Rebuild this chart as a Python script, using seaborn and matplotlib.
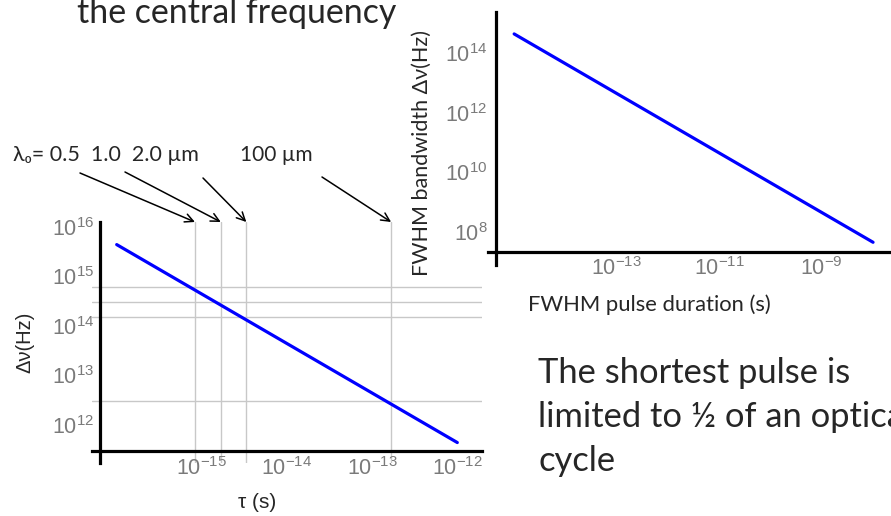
import matplotlib as mpl
import matplotlib.pyplot as plt
import numpy as np
import seaborn as sns
from matplotlib.ticker import FixedLocator, FixedFormatter, NullLocator

# values
tau_short = [1e-16, 1e-12]          # s, lower-left panel
dnu_short = [4.4e15, 4.4e11]        # Hz
tau_long = [1e-15, 1e-8]            # s, upper-right panel
dnu_long = [4.4e14, 4.4e7]          # Hz

grid_tau = [8.3e-16, 1.67e-15, 3.33e-15, 1.67e-13]   # half optical cycle
grid_nu = [6.0e14, 3.0e14, 1.5e14, 3.0e12]           # central frequency

short_xticks = [1e-16, 1e-15, 1e-14, 1e-13, 1e-12]
short_xlabels = ["", r"$10^{-15}$", r"$10^{-14}$", r"$10^{-13}$", r"$10^{-12}$"]
short_yticks = [1e12, 1e13, 1e14, 1e15, 1e16]
short_ylabels = [r"$10^{12}$", r"$10^{13}$", r"$10^{14}$", r"$10^{15}$", r"$10^{16}$"]
long_xticks = [1e-13, 1e-11, 1e-9]
long_xlabels = [r"$10^{-13}$", r"$10^{-11}$", r"$10^{-9}$"]
long_yticks = [1e8, 1e10, 1e12, 1e14]
long_ylabels = [r"$10^{8}$", r"$10^{10}$", r"$10^{12}$", r"$10^{14}$"]

sns.set_style("white")
mpl.rcParams["font.family"] = ["Liberation Sans", "DejaVu Sans"]
mpl.rcParams["mathtext.fontset"] = "custom"
mpl.rcParams["mathtext.rm"] = "Liberation Sans"
mpl.rcParams["mathtext.it"] = "Liberation Sans:italic"
mpl.rcParams["mathtext.bf"] = "Liberation Sans:bold"

SLIDE = ["Lato", "DejaVu Sans"]
BLUE = "#0000ff"
TICKC = "#7a7a7a"
W, H = 891, 516

fig = plt.figure(figsize=(W / 100, H / 100), dpi=100)


def px_axes(left, top, right, bottom):
    return fig.add_axes([left / W, 1 - bottom / H, (right - left) / W, (bottom - top) / H])


def style_axis(ax, xpos, ypos):
    ax.set_xscale("log")
    ax.set_yscale("log")
    ax.patch.set_alpha(0)
    for s in ["top", "right"]:
        ax.spines[s].set_visible(False)
    ax.spines["left"].set_position(("data", xpos))
    ax.spines["bottom"].set_position(("data", ypos))
    for s in ["left", "bottom"]:
        ax.spines[s].set_linewidth(2.3)
        ax.spines[s].set_color("black")
    ax.xaxis.set_minor_locator(NullLocator())
    ax.yaxis.set_minor_locator(NullLocator())
    ax.tick_params(direction="in", length=3, width=0.7, color="#aaaaaa",
                   labelcolor=TICKC, labelsize=15.5, pad=4)


# lower-left panel: tau vs bandwidth with wavelength markers
ax1 = px_axes(92, 222, 482, 463)
style_axis(ax1, 10 ** -16.2, 10 ** 11.47)
for t in grid_tau:
    ax1.axvline(t, color="#c8c8c8", lw=1.0, zorder=0)
for f in grid_nu:
    ax1.axhline(f, color="#c8c8c8", lw=1.0, zorder=0)
sns.lineplot(x=tau_short, y=dnu_short, ax=ax1, color=BLUE, lw=2.3, zorder=3)
ax1.set_xlim(10 ** -16.29, 10 ** -11.71)
ax1.set_ylim(10 ** 11.23, 10 ** 16.1)
ax1.xaxis.set_major_locator(FixedLocator(short_xticks))
ax1.xaxis.set_major_formatter(FixedFormatter(short_xlabels))
ax1.yaxis.set_major_locator(FixedLocator(short_yticks))
ax1.yaxis.set_major_formatter(FixedFormatter(short_ylabels))
ax1.set_xlabel("")
ax1.set_ylabel("")
fig.text(257 / W, 1 - 503 / H, "τ (s)", ha="center", va="center", fontsize=15)
fig.text(25 / W, 1 - 342 / H, "Δν(Hz)", ha="center", va="center", rotation=90, fontsize=14.5)

# wavelength annotations
fig.text(13 / W, 1 - 155 / H, "λ₀= 0.5  1.0  2.0 µm", ha="left", va="center",
         fontsize=15.5, family=SLIDE)
fig.text(240 / W, 1 - 155 / H, "100 µm", ha="left", va="center", fontsize=15, family=SLIDE)
arrow_tails = [(80, 173), (125, 172), (203, 178), (322, 177)]
for t, (xt, yt) in zip(grid_tau, arrow_tails):
    ax1.annotate("", xy=(t, 1.0), xycoords=("data", "axes fraction"),
                 xytext=(xt, H - yt), textcoords="figure pixels",
                 arrowprops=dict(arrowstyle="->", lw=1.1, color="black",
                                 shrinkA=0, shrinkB=0, mutation_scale=15),
                 annotation_clip=False)

# upper-right panel: FWHM duration vs bandwidth
ax2 = px_axes(488, 12, 891, 265)
style_axis(ax2, 10 ** -15.36, 10 ** 7.32)
sns.lineplot(x=tau_long, y=dnu_long, ax=ax2, color=BLUE, lw=2.3, zorder=3)
ax2.set_xlim(10 ** -15.51, 10 ** -7.65)
ax2.set_ylim(10 ** 6.88, 10 ** 15.38)
ax2.xaxis.set_major_locator(FixedLocator(long_xticks))
ax2.xaxis.set_major_formatter(FixedFormatter(long_xlabels))
ax2.yaxis.set_major_locator(FixedLocator(long_yticks))
ax2.yaxis.set_major_formatter(FixedFormatter(long_ylabels))
ax2.tick_params(axis="y", pad=6)
ax2.set_xlabel("")
ax2.set_ylabel("")
fig.text(649 / W, 1 - 305 / H, "FWHM pulse duration (s)", ha="center", va="center",
         fontsize=15.8, family=SLIDE)
fig.text(422 / W, 1 - 153 / H, "FWHM bandwidth Δν(Hz)", ha="center", va="center",
         rotation=90, fontsize=15.5, family=SLIDE)

# slide text (clipped by the slide edge, as in the original)
fig.text(77 / W, 1 - 23 / H, "the central frequency", ha="left", va="baseline",
         fontsize=24.4, family=SLIDE)
fig.text(538 / W, 1 - 417 / H, "The shortest pulse is\nlimited to ½ of an optical\ncycle",
         ha="left", va="center", fontsize=24.8, family=SLIDE, linespacing=1.45)

fig.savefig("out.png", dpi=100)
